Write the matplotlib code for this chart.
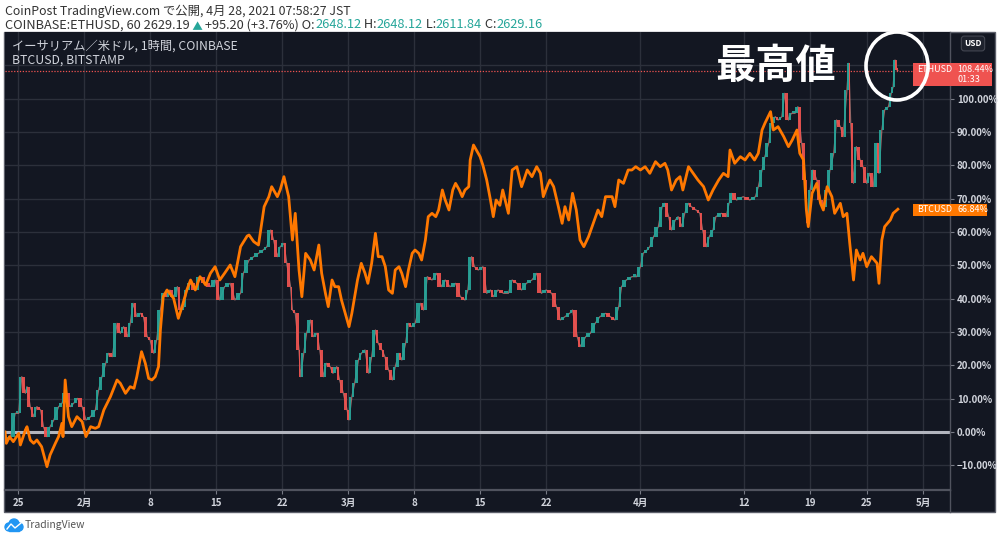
# %% Imports

import numpy as np
import pandas as pd
import matplotlib.pyplot as plt
from matplotlib.patches import Rectangle, Ellipse
from matplotlib.lines import Line2D

plt.rcParams['font.family'] = ['Noto Sans CJK JP', 'DejaVu Sans']

# %% Data (days since 2021-01-25 00:00, % change since first visible bar)

base_date = pd.Timestamp('2021-01-25')

btc_days = [-1.38, -1.24, -0.9, -0.5, 0.07, 0.25, 0.78, 0.95, 1.3, 1.66,
            2.0, 2.5, 3.07, 3.4, 3.96, 4.3, 4.66, 4.77, 5.0, 5.35,
            5.7, 6.25, 6.8, 7.2, 7.7, 8.2, 8.55, 9.1, 9.8, 10.5,
            10.85, 11.4, 11.9, 12.3, 12.6, 13.1, 13.5, 13.85, 14.2, 14.55,
            14.9, 15.1, 15.4, 15.8, 16.5, 17.0, 17.4, 17.9, 18.3, 18.8,
            19.3, 19.9, 20.4, 20.9, 21.4, 21.9, 22.5, 23.0, 23.6, 24.3,
            24.5, 25.0, 25.5, 26.1, 26.6, 26.9, 27.5, 27.8, 28.2, 28.7,
            29.1, 29.4, 29.8, 30.1, 30.5, 31.0, 31.4, 31.9, 32.2, 32.6,
            32.9, 33.3, 33.6, 34.0, 34.3, 34.7, 35.1, 35.4, 36.0, 36.4,
            36.8, 37.1, 37.5, 37.9, 38.2, 38.6, 38.95, 39.3, 39.7, 40.0,
            40.4, 40.7, 41.1, 41.4, 41.8, 42.1, 42.5, 42.8, 43.2, 43.5,
            43.9, 44.3, 44.6, 45.0, 45.3, 45.7, 46.1, 46.4, 46.8, 47.1,
            47.4, 47.8, 47.95, 48.3, 48.6, 49.0, 49.3, 49.7, 50.1, 50.4,
            50.7, 51.1, 51.4, 52.0, 52.4, 52.9, 53.4, 54.0, 54.5, 55.0,
            55.4, 55.7, 56.1, 56.4, 56.8, 57.3, 57.7, 58.0, 58.4, 58.8,
            59.2, 59.6, 60.0, 60.5, 61.0, 61.5, 61.9, 62.3, 63.0, 63.3,
            63.7, 64.2, 64.7, 65.1, 65.5, 66.0, 66.5, 67.0, 67.6, 68.1,
            68.6, 68.9, 69.3, 69.8, 70.2, 70.5, 71.1, 71.6, 72.1, 72.7,
            73.2, 73.7, 74.3, 74.8, 75.3, 75.5, 76.0, 76.6, 77.1, 77.6,
            78.1, 78.5, 78.9, 79.2, 79.8, 80.1, 80.6, 81.2, 81.7, 82.1,
            82.6, 82.9, 83.3, 83.6, 83.8, 84.2, 84.7, 85.1, 85.4, 85.8,
            86.3, 86.6, 87.2, 87.5, 87.9, 88.2, 88.6, 88.9, 89.3, 89.6,
            90.0, 90.5, 91.1, 91.3, 91.6, 91.9, 92.5, 92.8, 93.3]
btc_pct = [0.0, -3.4, -1.4, -2.9, -0.4, -3.9, 0.6, 1.6, -2.4, -3.4,
           -2.4, -4.4, -10.4, -6.9, -3.4, -1.4, 2.6, -1.4, 15.6, 4.6,
           1.6, 4.6, 3.1, -1.4, 1.6, 1.1, 1.6, 6.6, 10.6, 15.6,
           14.6, 11.6, 13.6, 13.1, 16.6, 24.1, 20.6, 16.1, 15.6, 16.6,
           19.6, 30.6, 40.6, 42.6, 40.1, 34.1, 37.6, 42.6, 45.6, 42.6,
           46.6, 44.1, 47.6, 49.6, 45.6, 47.6, 50.1, 46.6, 55.6, 58.8,
           59.1, 57.1, 56.1, 67.6, 70.6, 73.6, 70.6, 72.6, 76.6, 70.6,
           57.6, 65.6, 48.6, 40.6, 53.6, 51.6, 48.6, 56.1, 47.6, 41.6,
           37.6, 45.6, 43.6, 43.6, 39.6, 35.6, 31.6, 35.6, 45.6, 50.6,
           47.6, 44.6, 50.6, 59.6, 52.6, 52.6, 49.6, 42.6, 41.6, 48.6,
           49.6, 47.6, 43.6, 48.6, 53.6, 54.6, 53.6, 51.6, 57.6, 64.6,
           65.6, 64.6, 66.6, 72.6, 69.6, 66.6, 72.6, 74.6, 72.6, 70.6,
           72.6, 73.6, 81.6, 86.1, 84.6, 82.6, 80.0, 75.6, 69.6, 64.6,
           69.6, 68.0, 72.6, 65.6, 78.6, 79.6, 73.6, 78.6, 76.6, 79.6,
           77.6, 70.6, 73.6, 75.6, 73.6, 67.6, 62.6, 67.6, 63.6, 71.6,
           66.6, 57.6, 55.6, 58.6, 62.6, 66.6, 64.6, 70.6, 70.6, 67.6,
           75.6, 74.6, 78.6, 78.6, 79.6, 78.6, 79.6, 77.6, 81.1, 79.6,
           80.6, 78.6, 72.6, 75.6, 76.6, 72.6, 79.6, 77.6, 75.6, 73.6,
           69.6, 72.6, 75.6, 77.6, 76.6, 84.6, 80.6, 82.6, 81.6, 83.6,
           81.6, 83.6, 90.6, 92.6, 96.1, 90.6, 91.6, 88.6, 85.6, 87.6,
           90.6, 83.6, 81.6, 66.6, 61.6, 71.6, 74.6, 68.6, 66.6, 73.6,
           70.6, 65.6, 68.6, 64.6, 65.6, 56.6, 45.6, 54.6, 51.6, 53.6,
           49.6, 52.6, 50.6, 44.6, 57.6, 61.6, 63.6, 65.6, 66.84]

eth_days = [-1.38, -1.24, -0.8, -0.3, 0.07, 0.4, 0.78, 0.95, 1.3, 1.66,
            2.0, 2.4, 2.7, 3.07, 3.4, 3.8, 4.3, 4.66, 5.0, 5.55,
            5.9, 6.3, 6.8, 7.2, 7.7, 8.2, 8.55, 8.9, 9.3, 9.6,
            10.0, 10.5, 10.85, 11.2, 11.6, 11.9, 12.2, 12.6, 13.0, 13.3,
            13.7, 14.0, 14.4, 14.7, 15.1, 15.4, 15.8, 16.1, 16.5, 16.9,
            17.2, 17.6, 17.9, 18.3, 18.8, 19.3, 19.9, 20.4, 20.9, 21.4,
            21.9, 22.5, 23.0, 23.6, 23.9, 24.5, 25.0, 25.5, 26.0, 26.4,
            26.8, 27.1, 27.5, 27.8, 28.2, 28.5, 28.9, 29.1, 29.4, 29.8,
            29.95, 30.3, 30.6, 31.0, 31.3, 31.7, 32.0, 32.4, 32.7, 33.1,
            33.4, 33.8, 34.1, 34.5, 34.9, 35.1, 35.4, 35.7, 36.1, 36.4,
            36.8, 37.2, 37.5, 37.9, 38.2, 38.6, 38.9, 39.3, 39.7, 40.0,
            40.4, 40.7, 41.1, 41.4, 41.7, 42.1, 42.7, 43.0, 43.4, 43.9,
            44.4, 44.9, 45.3, 45.8, 46.4, 46.9, 47.4, 47.7, 48.1, 48.4,
            48.8, 49.3, 49.7, 50.1, 50.4, 50.9, 51.5, 52.0, 52.4, 52.9,
            53.4, 53.9, 54.5, 55.0, 55.5, 56.0, 56.6, 57.1, 57.5, 58.0,
            58.5, 58.8, 59.3, 59.6, 60.2, 60.7, 61.2, 61.7, 62.3, 62.8,
            63.3, 63.7, 64.0, 64.5, 65.1, 65.6, 66.0, 66.3, 66.7, 67.0,
            67.4, 67.9, 68.3, 68.6, 69.0, 69.3, 69.7, 70.0, 70.4, 70.7,
            71.1, 71.4, 71.9, 72.3, 72.6, 73.0, 73.3, 73.7, 74.0, 74.6,
            75.1, 75.4, 75.7, 76.2, 76.9, 77.6, 78.2, 78.5, 78.9, 79.2,
            79.6, 79.9, 80.3, 80.6, 81.0, 81.3, 81.7, 82.0, 82.4, 82.7,
            83.1, 83.5, 83.7, 84.0, 84.3, 84.7, 85.1, 85.4, 85.8, 86.1,
            86.5, 86.8, 87.2, 87.5, 87.9, 88.1, 88.3, 88.6, 88.9, 89.3,
            89.6, 90.0, 90.3, 90.7, 91.1, 91.3, 91.6, 91.9, 92.3, 92.6,
            92.8, 93.0, 93.2, 93.3]
eth_pct = [0.0, -2.4, -1.4, 5.6, 5.6, 16.6, 11.6, 13.6, 7.6, 4.6,
           7.6, 6.6, 1.6, -1.4, 1.6, 3.6, 7.6, 8.6, 11.6, 7.6,
           8.6, 10.1, 7.6, 3.6, 4.6, 6.6, 12.6, 16.6, 20.6, 23.6,
           22.6, 32.6, 29.6, 31.6, 28.6, 32.6, 38.6, 34.6, 35.6, 34.6,
           28.6, 27.6, 23.6, 27.6, 36.6, 41.6, 40.6, 42.6, 40.6, 43.6,
           36.6, 37.6, 42.6, 44.6, 42.6, 46.6, 44.6, 43.6, 45.6, 39.6,
           43.6, 44.6, 39.6, 41.6, 47.6, 51.6, 52.6, 53.6, 54.6, 55.6,
           60.6, 57.6, 52.6, 55.6, 56.6, 50.6, 43.6, 36.6, 35.6, 24.6,
           16.6, 23.6, 29.6, 33.6, 28.6, 29.6, 24.6, 16.6, 20.6, 19.6,
           17.6, 19.6, 15.6, 11.6, 6.6, 3.6, 10.6, 14.6, 21.6, 23.6,
           24.6, 17.6, 22.6, 30.6, 26.6, 24.6, 22.6, 18.6, 15.6, 19.6,
           23.6, 21.6, 26.6, 32.6, 31.6, 32.6, 38.6, 36.6, 46.6, 45.6,
           47.6, 43.6, 45.6, 43.6, 44.6, 40.6, 39.6, 42.6, 52.6, 49.6,
           48.6, 49.6, 41.6, 42.6, 40.6, 42.6, 41.6, 41.6, 45.6, 44.6,
           42.6, 44.6, 45.6, 47.6, 41.6, 42.6, 41.6, 37.6, 33.6, 34.6,
           35.6, 36.6, 28.6, 25.6, 28.6, 29.6, 32.6, 34.6, 35.6, 34.6,
           33.6, 37.6, 43.6, 45.6, 46.6, 46.6, 49.6, 53.6, 54.6, 55.6,
           58.6, 61.6, 67.6, 68.6, 64.6, 60.6, 63.6, 64.6, 61.6, 65.6,
           68.6, 67.6, 66.6, 65.6, 60.6, 55.6, 58.6, 60.6, 64.6, 65.6,
           64.6, 68.6, 71.6, 69.6, 70.6, 69.6, 70.6, 73.6, 78.6, 82.6,
           86.6, 92.6, 94.6, 93.6, 94.6, 101.6, 93.6, 95.6, 95.6, 97.6,
           86.6, 75.6, 62.6, 72.6, 78.6, 75.6, 69.6, 67.6, 72.6, 78.6,
           83.6, 93.6, 91.6, 88.6, 102.6, 110.6, 92.6, 74.6, 85.6, 81.6,
           79.6, 74.6, 77.6, 73.6, 86.6, 77.6, 90.6, 96.6, 97.6, 101.6,
           103.6, 111.6, 108.6, 108.44]

eth_last = 108.44
btc_last = 66.84

tick_dates = ['2021-01-25', '2021-02-01', '2021-02-08', '2021-02-15', '2021-02-22',
              '2021-03-01', '2021-03-08', '2021-03-15', '2021-03-22', '2021-04-01',
              '2021-04-12', '2021-04-19', '2021-04-25', '2021-05-01']
tick_labels = ['25', '2月', '8', '15', '22', '3月', '8', '15', '22', '4月',
               '12', '19', '25', '5月']
pct_ticks = list(range(-10, 111, 10))

# %% Style

bg = '#131722'
grid_c = '#2c303b'
txt_c = '#d1d4dc'
up_c = '#26a69a'
down_c = '#ef5350'
btc_c = '#ff7800'

W, H = 1000, 539


def fx(px):
    return px / W


def fy(py):
    return 1 - py / H


fig = plt.figure(figsize=(10, 5.39), dpi=100)
fig.patch.set_facecolor('white')

# dark chart frame
fig.add_artist(Rectangle((fx(4), fy(512)), fx(995) - fx(4), fy(32) - fy(512),
                         transform=fig.transFigure, facecolor=bg,
                         edgecolor='#5d606b', lw=1.0, zorder=0))

ax = fig.add_axes([fx(5), fy(490), fx(950) - fx(5), fy(32) - fy(490)])
ax.set_facecolor(bg)

# %% Candles (ETH) and line (BTC)

t = np.array(eth_days)
v = np.array(eth_pct)
opens, closes = v[:-1], v[1:]
dt = np.diff(t)
colors = np.where(closes >= opens, up_c, down_c)
# thin connecting trace under the candles keeps the band continuous
ax.plot(t, v, color='#b57a76', lw=0.9, alpha=0.8, zorder=3)
ax.bar(t[:-1] + dt * 0.5, np.maximum(np.abs(closes - opens), 0.8), width=dt * 0.75,
       bottom=np.minimum(opens, closes), align='center', color=colors,
       edgecolor='none', alpha=0.92, zorder=3)

ax.plot(btc_days, btc_pct, color=btc_c, lw=2.0, zorder=4, solid_joinstyle='round')

ax.axhline(0, color='#b2b5be', lw=2.2, zorder=2)
ax.axhline(eth_last, color=down_c, lw=0.9, ls=(0, (1, 1.3)), zorder=2)

# %% Axes

tick_pos = [(pd.Timestamp(d) - base_date).days for d in tick_dates]
ax.set_xticks(tick_pos)
ax.set_xticklabels(tick_labels, fontweight='bold')
ax.set_yticks(pct_ticks)
# the 110% label sits under the ETH price tag
ax.set_yticklabels(['' if p == 110 else f'{p:.2f}%'.replace('-', '\u2212') for p in pct_ticks],
                   fontweight='bold')
ax.yaxis.tick_right()
ax.set_xlim(-1.38, 98.83)
ax.set_ylim(-17.4, 120.0)

ax.grid(True, color=grid_c, lw=1.0, zorder=1)
ax.tick_params(axis='x', length=3, width=0.8, color='#787b86', labelcolor=txt_c,
               labelsize=7, pad=3)
ax.tick_params(axis='y', length=3, width=0.8, color='#787b86', labelcolor=txt_c,
               labelsize=7, pad=2)
for side in ['top', 'left']:
    ax.spines[side].set_visible(False)
ax.spines['bottom'].set_color('#50535e')
ax.spines['bottom'].set_linewidth(1.6)
ax.spines['right'].set_color('#50535e')
ax.spines['right'].set_linewidth(1.0)
fig.add_artist(Line2D([fx(950), fx(950)], [fy(490), fy(512)], transform=fig.transFigure,
                      color='#50535e', lw=1.0))

# %% Annotations inside the chart

fig.text(fx(12), fy(46), 'イーサリアム／米ドル, 1時間, COINBASE', color=txt_c, fontsize=8.8, va='center')
fig.text(fx(12), fy(60), 'BTCUSD, BITSTAMP', color=txt_c, fontsize=8.8, va='center')

fig.text(fx(776), fy(66), '最高値', color='white', fontsize=29, fontweight='bold',
         ha='center', va='center', zorder=6)
fig.add_artist(Ellipse((fx(897), fy(66)), fx(62), 68 / H, transform=fig.transFigure,
                       fill=False, edgecolor='white', lw=2.6, zorder=6))

fig.text(fx(973), fy(43.5), 'USD', color='white', fontsize=6, fontweight='bold',
         ha='center', va='center',
         bbox=dict(boxstyle='round,pad=0.35', fc='#1e222d', ec='#434651', lw=0.8))

# last value labels
fig.add_artist(Rectangle((fx(913), fy(86)), fx(79), 23 / H, transform=fig.transFigure,
                         facecolor=down_c, edgecolor='none', zorder=5))
fig.text(fx(917), fy(70), 'ETHUSD', color='white', fontsize=6.5, va='center', zorder=7)
fig.text(fx(957), fy(70), f'{eth_last:.2f}%', color='white', fontsize=6.5, va='center', zorder=7)
fig.text(fx(958), fy(80), '01:33', color='white', fontsize=6.5, va='center', zorder=7)
fig.add_artist(Rectangle((fx(913), fy(216)), fx(74), 12 / H, transform=fig.transFigure,
                         facecolor=btc_c, edgecolor='none', zorder=5))
fig.text(fx(917), fy(210), 'BTCUSD', color='white', fontsize=6.5, va='center', zorder=7)
fig.text(fx(957), fy(210), f'{btc_last:.2f}%', color='white', fontsize=6.5, va='center', zorder=7)

# %% Header above the chart

fig.text(fx(5), fy(11), 'CoinPost TradingView.com で公開, 4月 28, 2021 07:58:27 JST',
         color='#333333', fontsize=8.9, va='center')
parts = [(' ▲', up_c), (' +95.20 (+3.76%) O:', '#333333'), ('2648.12', up_c),
         (' H:', '#333333'), ('2648.12', up_c), (' L:', '#333333'), ('2611.84', up_c),
         (' C:', '#333333'), ('2629.16', up_c)]
prev = fig.text(fx(5), fy(25), 'COINBASE:ETHUSD, 60 2629.19', color='#333333',
                fontsize=9.2, va='center')
for s, c in parts:
    prev = ax.annotate(s, xy=(1, 0), xycoords=prev, va='bottom', ha='left',
                       color=c, fontsize=9.2 if s != ' ▲' else 7.5, annotation_clip=False)

# %% Footer logo

logo_c = '#2196f3'
for cx, cy, r in [(9, 527, 4), (14, 524, 5), (19, 527, 4)]:
    fig.add_artist(Ellipse((fx(cx), fy(cy)), fx(2 * r), 2 * r / H,
                           transform=fig.transFigure, color=logo_c, zorder=2))
fig.add_artist(Rectangle((fx(9), fy(531)), fx(10), 4 / H, transform=fig.transFigure,
                         color=logo_c, zorder=2))
fig.add_artist(Line2D([fx(7), fx(11), fx(15), fx(21)], [fy(529), fy(524), fy(528), fy(523)],
                      transform=fig.transFigure, color='white', lw=1.0, zorder=3))
fig.text(fx(25), fy(525), 'TradingView', color='#555555', fontsize=7.5, va='center')

fig.savefig('out.png', dpi=100, facecolor='white')
